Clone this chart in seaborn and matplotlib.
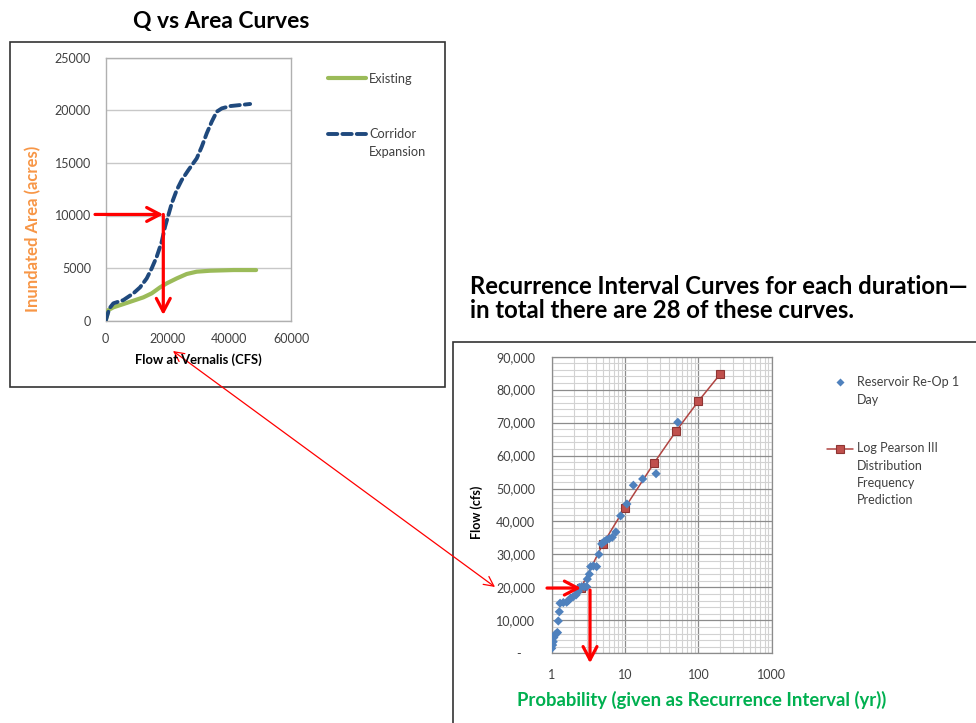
import matplotlib
matplotlib.use("Agg")
import matplotlib.pyplot as plt
import pandas as pd
import seaborn as sns
from matplotlib.patches import Rectangle, FancyArrowPatch
from matplotlib.lines import Line2D
from matplotlib.ticker import MultipleLocator, FixedLocator, FuncFormatter, LogLocator, NullFormatter

# ---- Q vs Area curves (flow at Vernalis, cfs -> inundated area, acres) ----
existing_flow = [0, 860, 2480, 5720, 8960, 12200, 14900, 17600, 19760, 23000,
                 26240, 29480, 33800, 41360, 48700]
existing_area = [0, 1010, 1270, 1580, 1900, 2220, 2600, 3170, 3550, 4020,
                 4440, 4660, 4750, 4815, 4815]

corridor_flow = [0, 1190, 2480, 5720, 8960, 11120, 13280, 14900, 16520, 18140,
                 19220, 20300, 21380, 23000, 24620, 26780, 29480, 31100, 32720,
                 34340, 35960, 37580, 40280, 46760]
corridor_area = [0, 1170, 1650, 1960, 2600, 3170, 4020, 4975, 6080, 7510,
                 8935, 10045, 11150, 12420, 13370, 14320, 15430, 16540, 17810,
                 18920, 19870, 20180, 20400, 20600]

# ---- Recurrence interval curve (1-day duration) ----
obs_interval = [1.0, 1.03, 1.05, 1.07, 1.11, 1.17, 1.2, 1.23, 1.27, 1.30, 1.44,
                1.60, 1.69, 1.81, 1.97, 2.15, 2.31, 2.38, 2.56, 2.79, 3.0, 3.06,
                3.26, 3.4, 3.7, 4.1, 4.4, 4.8, 5.2, 5.6, 6.1, 6.7, 7.5, 8.7,
                10.6, 13.0, 17.4, 26.5, 52.4]
obs_flow = [1500, 2500, 3500, 4800, 5600, 6100, 6300, 9800, 12600, 15200, 15400,
            15500, 16000, 16700, 17200, 17700, 18700, 20000, 20200, 20200, 20200,
            22500, 24000, 26300, 26500, 26300, 30000, 33200, 33900, 34400, 34800,
            35200, 36800, 41700, 45300, 51000, 52900, 54500, 70100]

lp3_interval = [2.5, 5, 10, 25, 50, 100, 200]
lp3_flow = [19800, 33200, 44200, 57800, 67500, 76500, 84800]

left_yticks = [0, 5000, 10000, 15000, 20000, 25000]
left_xticks = [0, 20000, 40000, 60000]
right_xticks = [1, 10, 100, 1000]

sns.set_theme(style="white")
plt.rcParams["font.family"] = ["Lato", "DejaVu Sans"]

W, H = 976, 723
fig = plt.figure(figsize=(W / 100, H / 100), dpi=100)


def fx(px):
    return px / W


def fy(py):
    return 1 - py / H


TICK_GREY = "#404040"

# ---------------- left panel ----------------
ax1 = fig.add_axes([fx(105.7), fy(320.7), fx(291) - fx(105.7), fy(57.7) - fy(320.7)])
q_existing = pd.DataFrame({"flow": existing_flow, "area": existing_area})
q_corridor = pd.DataFrame({"flow": corridor_flow, "area": corridor_area})
sns.lineplot(data=q_existing, x="flow", y="area", ax=ax1, sort=False,
             estimator=None, color="#9BBB59", lw=3.0, zorder=3)
sns.lineplot(data=q_corridor, x="flow", y="area", ax=ax1, sort=False,
             estimator=None, color="#1F497D", lw=2.8, zorder=3,
             linestyle=(0, (2.4, 1.3)), dash_capstyle="round")
ax1.set_xlim(0, 60000)
ax1.set_ylim(0, 25000)
ax1.xaxis.set_major_locator(FixedLocator(left_xticks))
ax1.yaxis.set_major_locator(FixedLocator(left_yticks))
ax1.grid(axis="y", color="#C8C8C8", lw=1.0)
ax1.grid(axis="x", visible=False)
for s in ax1.spines.values():
    s.set_color("#B0B0B0")
    s.set_linewidth(1.0)
ax1.tick_params(axis="both", length=0, labelsize=9, colors=TICK_GREY)
ax1.tick_params(axis="y", pad=10.5)
ax1.tick_params(axis="x", pad=9)
ax1.set_xlabel("")
ax1.set_ylabel("")

# reading arrows on the left panel
big_arrow = dict(arrowstyle="->,head_length=0.95,head_width=0.5", color="#FF0000",
                 lw=2.3, shrinkA=0, shrinkB=0, mutation_scale=10)
ax1.annotate("", xy=(18650, 10100), xytext=(-3460, 10100), arrowprops=big_arrow,
             annotation_clip=False, zorder=6)
ax1.annotate("", xy=(18650, 540), xytext=(18650, 10100), arrowprops=big_arrow,
             annotation_clip=False, zorder=6)

# ---------------- right panel ----------------
ax2 = fig.add_axes([fx(551.7), fy(653.3), fx(771.7) - fx(551.7), fy(356.7) - fy(653.3)])
ri_obs = pd.DataFrame({"interval": obs_interval, "flow": obs_flow})
ri_lp3 = pd.DataFrame({"interval": lp3_interval, "flow": lp3_flow})
sns.lineplot(data=ri_lp3, x="interval", y="flow", ax=ax2, sort=False,
             estimator=None, color="#B04441", lw=1.1, marker="s", markersize=6,
             markerfacecolor="#C0504D", markeredgecolor="#8E3533",
             markeredgewidth=0.8, zorder=4)
sns.scatterplot(data=ri_obs, x="interval", y="flow", ax=ax2, marker="D", s=22,
                color="#4F81BD", edgecolor="none", zorder=5)
ax2.set_xscale("log")
ax2.set_xlim(1, 1000)
ax2.set_ylim(0, 90000)
ax2.xaxis.set_major_locator(FixedLocator(right_xticks))
ax2.xaxis.set_major_formatter(FuncFormatter(lambda v, p: f"{v:g}"))
ax2.xaxis.set_minor_locator(LogLocator(base=10, subs=range(2, 10)))
ax2.xaxis.set_minor_formatter(NullFormatter())
ax2.yaxis.set_major_locator(MultipleLocator(10000))
ax2.yaxis.set_minor_locator(MultipleLocator(2000))
ax2.yaxis.set_major_formatter(FuncFormatter(lambda v, p: "-    " if v == 0 else f"{int(v):,}"))
ax2.grid(which="major", color="#8C8C8C", lw=0.9)
ax2.grid(which="minor", color="#D2D2D2", lw=0.8)
ax2.set_axisbelow(True)
for s in ax2.spines.values():
    s.set_color("#8C8C8C")
    s.set_linewidth(0.9)
ax2.tick_params(axis="both", which="major", length=4, width=0.8, color="#8C8C8C",
                labelsize=9, colors=TICK_GREY)
ax2.tick_params(axis="x", which="major", colors="#8C8C8C", labelcolor=TICK_GREY, pad=7)
ax2.tick_params(axis="y", which="major", colors="#8C8C8C", labelcolor=TICK_GREY, pad=8)
ax2.tick_params(which="minor", length=0)
ax2.set_xlabel("")
ax2.set_ylabel("")

ax2.annotate("", xy=(2.51, 19800), xytext=(0.863, 19800), arrowprops=big_arrow,
             annotation_clip=False, zorder=7)
ax2.annotate("", xy=(3.33, -3000), xytext=(3.33, 19200), arrowprops=big_arrow,
             annotation_clip=False, zorder=7)

# ---------------- frames ----------------
fig.add_artist(Rectangle((fx(9.5), fy(386.7)), fx(445) - fx(9.5), fy(41.7) - fy(386.7),
                         transform=fig.transFigure, fill=False, ec="#333333", lw=1.2))
fig.add_artist(Rectangle((fx(453), fy(740)), fx(1000) - fx(453), fy(342) - fy(740),
                         transform=fig.transFigure, fill=False, ec="#333333", lw=1.2,
                         clip_on=False))

# ---------------- titles and axis labels ----------------
fig.text(fx(221), fy(28.3), "Q vs Area Curves", ha="center", va="baseline",
         fontsize=16.5, fontweight="bold", color="black")
fig.text(fx(470), fy(293.5), "Recurrence Interval Curves for each duration\u2014",
         ha="left", va="baseline", fontsize=17.2, fontweight="bold", color="black")
fig.text(fx(470), fy(318.5), "in total there are 28 of these curves.",
         ha="left", va="baseline", fontsize=17.2, fontweight="bold", color="black")

fig.text(fx(33), fy(229), "Inundated Area (acres)", rotation=90, ha="center",
         va="center", fontsize=12, fontweight="bold", color="#F79646")
fig.text(fx(198), fy(360), "Flow at Vernalis (CFS)", ha="center", va="center",
         fontsize=9.4, fontweight="bold", color="black")
fig.text(fx(477), fy(512), "Flow (cfs)", rotation=90, ha="center", va="center",
         fontsize=9, fontweight="bold", color="black")
fig.text(fx(702), fy(700), "Probability (given as Recurrence Interval (yr))",
         ha="center", va="center", fontsize=13.3, fontweight="bold", color="#00B050")

# ---------------- legends ----------------
LEG = "#404040"
fig.add_artist(Line2D([fx(328), fx(366)], [fy(78), fy(78)], color="#9BBB59", lw=3.0,
                      transform=fig.transFigure))
fig.text(fx(369), fy(79), "Existing", ha="left", va="center", fontsize=9.2, color=LEG)
fig.add_artist(Line2D([fx(328), fx(366)], [fy(134), fy(134)], color="#1F497D", lw=2.8,
                      linestyle=(0, (2.4, 1.3)), dash_capstyle="round",
                      transform=fig.transFigure))
fig.text(fx(369), fy(134), "Corridor", ha="left", va="center", fontsize=9.2, color=LEG)
fig.text(fx(369), fy(151.5), "Expansion", ha="left", va="center", fontsize=9.2, color=LEG)

fig.add_artist(Line2D([fx(840)], [fy(382)], marker="D", markersize=4.5, color="#4F81BD",
                      markeredgecolor="none", lw=0, transform=fig.transFigure))
for i, line in enumerate(["Reservoir Re-Op 1", "Day"]):
    fig.text(fx(857), fy(382 + 17.5 * i), line, ha="left", va="center",
             fontsize=9, color=LEG)
fig.add_artist(Line2D([fx(827), fx(853)], [fy(449), fy(449)], color="#B04441", lw=1.1,
                      transform=fig.transFigure))
fig.add_artist(Line2D([fx(840)], [fy(449)], marker="s", markersize=6,
                      markerfacecolor="#C0504D", markeredgecolor="#8E3533",
                      markeredgewidth=0.8, lw=0, transform=fig.transFigure))
for i, line in enumerate(["Log Pearson III", "Distribution", "Frequency", "Prediction"]):
    fig.text(fx(857), fy(448 + 17.5 * i), line, ha="left", va="center",
             fontsize=9, color=LEG)

# thin link between the two panels
fig.add_artist(FancyArrowPatch((fx(173), fy(351)), (fx(495), fy(587)),
                               transform=fig.transFigure,
                               arrowstyle="<->,head_length=0.7,head_width=0.35",
                               mutation_scale=10, color="#FF0000", lw=0.9,
                               shrinkA=0, shrinkB=0))

fig.savefig("out.png", dpi=100)
